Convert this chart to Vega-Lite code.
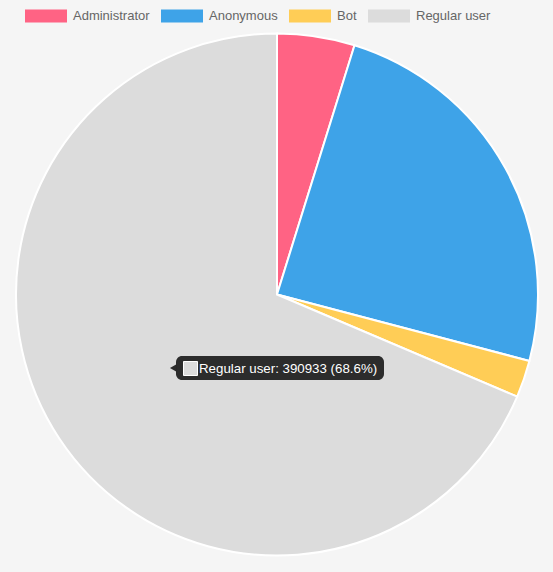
{
  "$schema": "https://vega.github.io/schema/vega-lite/v6.json",
  "autosize": {"type": "none"},
  "width": 552,
  "height": 555,
  "padding": {"left": 1, "top": 17, "right": 0, "bottom": 0},
  "background": "#f5f5f5",
  "config": {"view": {"stroke": null}, "font": "Liberation Sans"},
  "layer": [
    {
      "data": {"values": [
        {"group": "Administrator", "count": 27354, "rank": 1},
        {"group": "Anonymous", "count": 138479, "rank": 2},
        {"group": "Bot", "count": 13107, "rank": 3},
        {"group": "Regular user", "count": 390933, "rank": 4}
      ]},
      "mark": {"type": "arc", "outerRadius": 261, "stroke": "#ffffff", "strokeWidth": 2},
      "encoding": {
        "theta": {"field": "count", "type": "quantitative", "stack": true},
        "order": {"field": "rank", "type": "quantitative"},
        "color": {
          "field": "group",
          "type": "nominal",
          "scale": {
            "domain": ["Administrator", "Anonymous", "Bot", "Regular user"],
            "range": ["#ff6384", "#3ea3e8", "#ffcd56", "#dcdcdc"]
          },
          "legend": {
            "orient": "none",
            "legendX": 24,
            "legendY": -22,
            "direction": "horizontal",
            "title": null,
            "padding": 0,
            "symbolType": "M-1,-0.31L1,-0.31L1,0.31L-1,0.31Z",
            "symbolSize": 1764,
            "symbolStrokeWidth": 0,
            "symbolOpacity": 1,
            "labelFontSize": 13,
            "labelColor": "#666666",
            "labelFont": "Liberation Sans",
            "labelOffset": 6,
            "columnPadding": 11
          }
        }
      }
    },
    {
      "data": {"values": [{"label": "Regular user: 390933 (68.6%)"}]},
      "layer": [
        {
          "mark": {"type": "rect", "fill": "#000000", "opacity": 0.8, "cornerRadius": 6},
          "encoding": {
            "x": {"value": 175}, "x2": {"value": 383},
            "y": {"value": 339}, "y2": {"value": 363}
          }
        },
        {
          "mark": {"type": "point", "shape": "triangle-left", "filled": true, "fill": "#000000", "opacity": 0.8, "size": 50},
          "encoding": {"x": {"value": 172}, "y": {"value": 351}}
        },
        {
          "mark": {"type": "rect", "fill": "#dcdcdc", "stroke": "#ffffff", "strokeWidth": 1},
          "encoding": {
            "x": {"value": 182.5}, "x2": {"value": 196.5},
            "y": {"value": 344.5}, "y2": {"value": 358.5}
          }
        },
        {
          "mark": {"type": "text", "align": "left", "baseline": "middle", "fontSize": 13.3, "color": "#ffffff", "font": "Liberation Sans"},
          "encoding": {
            "x": {"value": 198}, "y": {"value": 351.5},
            "text": {"field": "label", "type": "nominal"}
          }
        }
      ]
    }
  ]
}
